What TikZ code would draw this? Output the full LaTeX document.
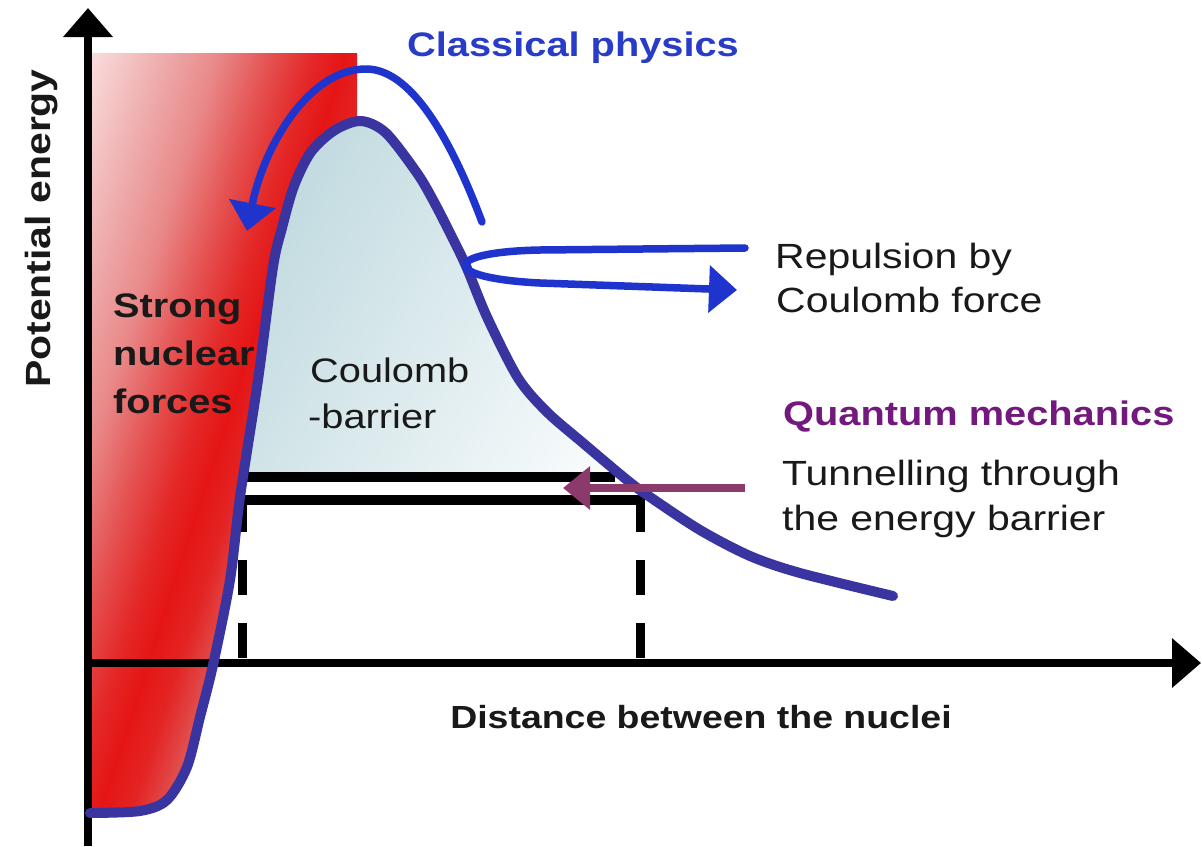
\documentclass[tikz,border=0pt]{standalone}
\usepackage{fontspec}
\setmainfont{Liberation Sans}[FakeStretch=1.17]
\usetikzlibrary{arrows.meta}
\definecolor{curveblue}{RGB}{58,52,160}
\definecolor{arcblue}{RGB}{30,52,205}
\definecolor{classblue}{RGB}{40,60,200}
\definecolor{quantpurple}{RGB}{115,25,125}
\definecolor{tunpurple}{RGB}{140,58,108}
\definecolor{txt}{RGB}{25,25,25}
\definecolor{rA}{RGB}{251,226,226}
\definecolor{rB}{RGB}{238,170,170}
\definecolor{rC}{RGB}{233,136,136}
\definecolor{rD}{RGB}{229,80,80}
\definecolor{rE}{RGB}{228,40,40}
\definecolor{rF}{RGB}{229,21,21}
\definecolor{rG}{RGB}{227,36,36}
\definecolor{rH}{RGB}{224,88,88}
\definecolor{rI}{RGB}{230,116,116}
\definecolor{bA}{RGB}{196,220,225}
\definecolor{bB}{RGB}{246,250,251}
\pgfdeclarehorizontalshading{redsh}{100bp}{color(0bp)=(rA); color(25bp)=(rA); color(33bp)=(rB); color(38bp)=(rC); color(43bp)=(rD); color(47bp)=(rE); color(50bp)=(rF); color(53bp)=(rG); color(57bp)=(rH); color(75bp)=(rI); color(100bp)=(rI)}
\pgfdeclarehorizontalshading{bluesh}{100bp}{color(0bp)=(bA); color(30bp)=(bA); color(75bp)=(bB); color(100bp)=(bB)}
\newcommand\myfs[1]{\fontsize{#1}{#1}\selectfont}
\tikzset{
  lbl/.style={inner sep=0pt, anchor=base west, text=txt, font=\myfs{35}},
  blbl/.style={inner sep=0pt, anchor=base west, text=txt, font=\myfs{34}\bfseries},
  axisline/.style={line width=8.5pt, -{Triangle[width=48pt,length=29pt]}},
  levelline/.style={line width=9.5pt},
  dashline/.style={line width=9pt, dash pattern=on 35pt off 28pt},
  potcurve/.style={line width=10pt, draw=curveblue, line cap=round, line join=round},
  classarrow/.style={line width=7.5pt, draw=arcblue, line cap=round, -{Triangle[width=46pt,length=28pt]}},
  tunarrow/.style={line width=7.5pt, color=tunpurple, -{Triangle[width=42pt,length=27pt]}}
}
\begin{document}
\begin{tikzpicture}[x=1pt,y=-1pt]
\useasboundingbox (0,0) rectangle (1202,846);
\fill[white] (0,0) rectangle (1202,846);
% red region (strong nuclear forces)
\begin{scope}
\clip plot[smooth] coordinates {(90,813) (140,811) (167,800) (187,767) (200,717) (213,665) (230,580) (240,497) (258,380) (273,267) (282,228) (294,186) (311,152) (335,130) (361,121) (386,133) (417,173) (433,200) (450,233) (466,266) (487,317) (518,378) (547,412) (583,443) (627,480) (650,497) (700,530) (750,556) (800,573) (893,596)} -- (893,-10) -- (80,-10) -- cycle;
\clip (88,53) rectangle (357,815);
\begin{scope}[transform canvas={rotate around={-18:(222,434)}}]
\shade[shading=redsh] (-28,20) rectangle (472,848);
\end{scope}
\end{scope}
% Coulomb barrier region
\begin{scope}
\clip plot[smooth] coordinates {(90,813) (140,811) (167,800) (187,767) (200,717) (213,665) (230,580) (240,497) (258,380) (273,267) (282,228) (294,186) (311,152) (335,130) (361,121) (386,133) (417,173) (433,200) (450,233) (466,266) (487,317) (518,378) (547,412) (583,443) (627,480) (650,497) (700,530) (750,556) (800,573) (893,596)} -- (893,900) -- (80,900) -- cycle;
\shade[shading=bluesh, shading angle=-30] (225,100) rectangle (660,478);
\end{scope}
% energy levels
\coordinate (l1a) at (243,477); \coordinate (l1b) at (615,477);
\coordinate (l2a) at (238,500); \coordinate (l2b) at (645,500);
\coordinate (d1t) at (242,497); \coordinate (d1b) at (242,663);
\coordinate (d2t) at (640,497); \coordinate (d2b) at (640,663);
\draw[levelline] (l1a) -- (l1b);
\draw[levelline] (l2a) -- (l2b);
\draw[dashline] (d1t) -- (d1b);
\draw[dashline] (d2t) -- (d2b);
% axes
\coordinate (ybot) at (88,846); \coordinate (ytop) at (88,8);
\coordinate (xbeg) at (84,663); \coordinate (xend) at (1201,663);
\draw[axisline] (xbeg) -- (xend);
\draw[axisline] (ybot) -- (ytop);
% labels
\node[blbl] (strong) at (113,317) {Strong};
\node[blbl] (nuclear) at (113,365) {nuclear};
\node[blbl] (forces) at (113,413) {forces};
\node[lbl, font=\myfs{34}] (coul) at (310,382) {Coulomb};
\node[lbl, font=\myfs{34}] (barr) at (308,428) {-barrier};
% potential curve
\draw[potcurve] plot[smooth] coordinates {(90,813) (140,811) (167,800) (187,767) (200,717) (213,665) (230,580) (240,497) (258,380) (273,267) (282,228) (294,186) (311,152) (335,130) (361,121) (386,133) (417,173) (433,200) (450,233) (466,266) (487,317) (518,378) (547,412) (583,443) (627,480) (650,497) (700,530) (750,556) (800,573) (893,596)};
% classical arc arrow
\coordinate (arcS) at (482,222); \coordinate (arcT) at (367,69); \coordinate (arcE) at (247,231);
\draw[classarrow] (arcS) .. controls (455,150) and (415,70) .. (arcT) .. controls (310,68) and (264,145) .. (arcE);
% repulsion arrow
\coordinate (repS) at (745,248); \coordinate (repE) at (737,290);
\draw[classarrow] (repS) -- (540,250) .. controls (440,252) and (440,278) .. (540,283) -- (repE);
% tunnelling arrow
\coordinate (tunS) at (745,488); \coordinate (tunE) at (563,488);
\draw[tunarrow] (tunS) -- (tunE);
% right labels
\node[blbl, text=classblue] (classical) at (407,56) {Classical physics};
\node[lbl] (rep1) at (775,268) {Repulsion by};
\node[lbl] (rep2) at (776,312) {Coulomb force};
\node[blbl, text=quantpurple] (quantum) at (783,425) {Quantum mechanics};
\node[lbl] (tun1) at (782,485) {Tunnelling through};
\node[lbl] (tun2) at (782,530) {the energy barrier};
\node[blbl, font=\myfs{32}\bfseries, anchor=base] (dist) at (701,728) {Distance between the nuclei};
\node[blbl, font=\myfs{35}\bfseries, rotate=90] (pot) at (50,388) {Potential energy};
\end{tikzpicture}
\end{document}
